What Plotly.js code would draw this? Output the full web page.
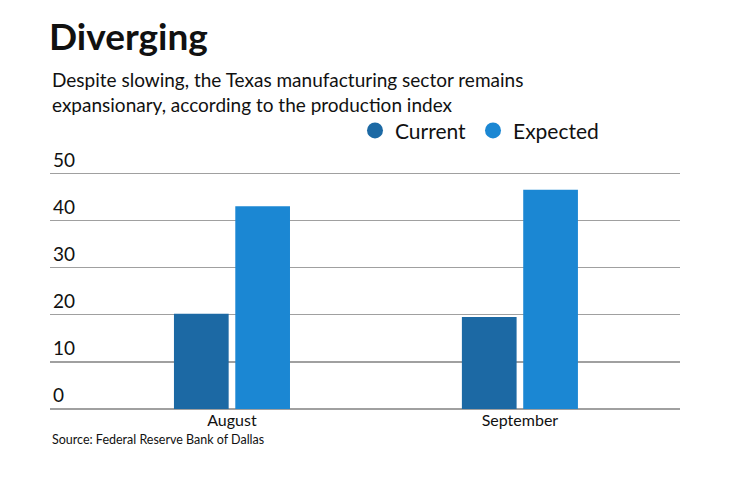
<!DOCTYPE html>
<html>
<head>
<meta charset="utf-8">
<script src="https://cdn.plot.ly/plotly-3.0.1.min.js"></script>
<style>html,body{margin:0;padding:0;background:#fff;}</style>
</head>
<body>
<div id="chart" style="width:740px;height:482px;"></div>
<script>
const categories = ["August", "September"];
const seriesNames = ["Current", "Expected"];
const currentValues = [20.2, 19.5];
const expectedValues = [43.0, 46.5];
const yTicks = [0, 10, 20, 30, 40, 50];

const colors = ["#1c69a4", "#1b87d3"];
const FONT = "Lato, 'Open Sans', sans-serif";
const H = 56 * 4.71;           // plot height in px
const py = y => (409 - y) / H; // pixel row -> paper coordinate
const px = x => (x - 50) / 630;

const data = [
  {type: "bar", x: categories, y: currentValues, name: seriesNames[0], marker: {color: colors[0]}, showlegend: false, hoverinfo: "y"},
  {type: "bar", x: categories, y: expectedValues, name: seriesNames[1], marker: {color: colors[1]}, showlegend: false, hoverinfo: "y"},
  {type: "scatter", mode: "markers", x: [null], y: [null], name: seriesNames[0], legend: "legend", marker: {color: colors[0], size: 17, symbol: "circle"}},
  {type: "scatter", mode: "markers", x: [null], y: [null], name: seriesNames[1], legend: "legend2", marker: {color: colors[1], size: 17, symbol: "circle"}}
];

const legendBase = {
  orientation: "h", xanchor: "left", yanchor: "middle",
  y: py(131),
  font: {family: FONT, size: 21, color: "#111"},
  itemwidth: 30,
  bgcolor: "rgba(0,0,0,0)"
};

const layout = {
  width: 740, height: 482,
  margin: {l: 50, r: 60, t: 409 - H, b: 73},
  paper_bgcolor: "#fff", plot_bgcolor: "#fff",
  font: {family: FONT, color: "#111"},
  barmode: "group",
  bargap: 0.574,
  bargroupgap: 0.108,
  title: {
    text: "<b>Diverging</b>",
    font: {family: FONT, size: 37, color: "#111"},
    xref: "container", yref: "container",
    x: 49/740, xanchor: "left",
    y: 1 - 24/482, yanchor: "top"
  },
  xaxis: {
    type: "category",
    range: [-0.632, 1.556],
    showgrid: false, zeroline: false, showline: false,
    ticks: "", tickfont: {family: FONT, size: 16, color: "#111"},
    fixedrange: true
  },
  yaxis: {
    range: [0, 56],
    tickvals: yTicks,
    ticktext: yTicks.map(String),
    ticklabelposition: "inside top",
    tickfont: {family: FONT, size: 19, color: "#111"},
    showgrid: true, gridcolor: "#a0a0a0", gridwidth: 1.5,
    zeroline: true, zerolinecolor: "#a0a0a0", zerolinewidth: 1.5,
    showline: false, ticks: "",
    fixedrange: true
  },
  legend: Object.assign({}, legendBase, {x: px(355)}),
  legend2: Object.assign({}, legendBase, {x: px(473)}),
  annotations: [
    {
      text: "Despite slowing, the Texas manufacturing sector remains<br>expansionary, according to the production index",
      xref: "paper", yref: "paper", x: 0, xanchor: "left",
      y: py(66), yanchor: "top",
      showarrow: false, align: "left",
      font: {family: FONT, size: 19, color: "#111"}
    },
    {
      text: "Source: Federal Reserve Bank of Dallas",
      xref: "paper", yref: "paper", x: 0, xanchor: "left",
      y: py(439), yanchor: "middle",
      showarrow: false, align: "left",
      font: {family: FONT, size: 12.5, color: "#111"}
    }
  ]
};

Plotly.newPlot("chart", data, layout, {displayModeBar: false, staticPlot: true});
</script>
</body>
</html>
